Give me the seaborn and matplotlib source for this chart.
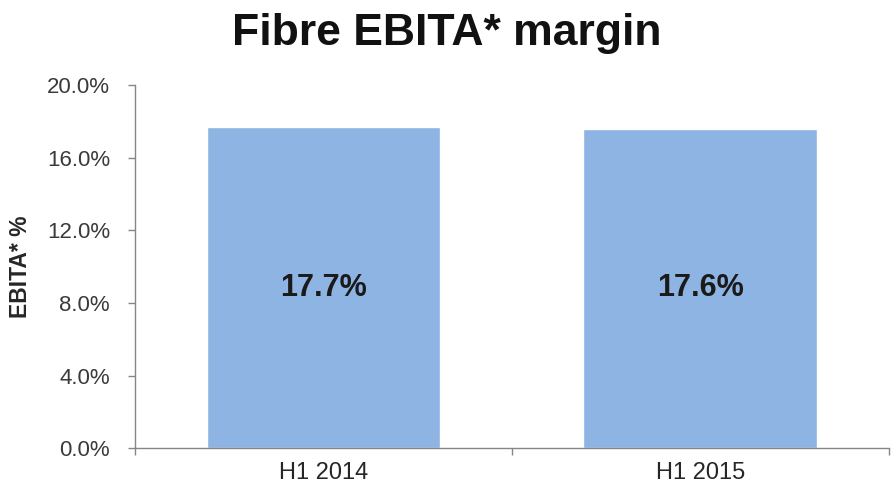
import matplotlib
matplotlib.use("Agg")
import matplotlib.pyplot as plt
import seaborn as sns
import pandas as pd
from matplotlib.ticker import FuncFormatter, FixedLocator

# Data
periods = ["H1 2014", "H1 2015"]
margins = [17.7, 17.6]
y_ticks = [0, 4, 8, 12, 16, 20]

df = pd.DataFrame({"period": periods, "margin": margins})

sns.set_style("white")
plt.rcParams["font.family"] = ["Liberation Sans", "DejaVu Sans"]

fig = plt.figure(figsize=(8.94, 4.92), dpi=100)
ax = fig.add_axes([0.151, 0.089, 0.843, 0.738])

sns.barplot(data=df, x="period", y="margin", color="#8EB4E3", width=0.62,
            saturation=1, ax=ax)

# value labels in the middle of each bar
for i, v in enumerate(margins):
    ax.text(i, v / 2, f"{v:.1f}%", ha="center", va="center",
            fontsize=22, fontweight="bold", color="#1a1a1a")

ax.set_ylim(0, 20)
ax.set_xlim(-0.5, 1.5)
ax.set_yticks(y_ticks)
ax.yaxis.set_major_formatter(FuncFormatter(lambda v, _: f"{v:.1f}%"))
ax.xaxis.set_minor_locator(FixedLocator([-0.5, 0.5, 1.5]))
ax.tick_params(axis="x", which="major", bottom=True, length=0, labelsize=17,
               colors="#262626", pad=10)
ax.tick_params(axis="x", which="minor", bottom=True, length=5, color="#868686", width=1)
ax.tick_params(axis="y", left=True, length=5, color="#868686", width=1, labelsize=16,
               labelcolor="#3a3a3a", pad=13)

ax.set_xlabel("")
ax.set_ylabel("EBITA* %", fontsize=16.5, fontweight="bold")
ax.yaxis.set_label_coords(-0.137, 0.5)

for s in ["top", "right"]:
    ax.spines[s].set_visible(False)
for s in ["left", "bottom"]:
    ax.spines[s].set_color("#868686")
    ax.spines[s].set_linewidth(1)

fig.text(0.5, 0.932, "Fibre EBITA* margin", ha="center", va="center",
         fontsize=32, fontweight="bold", color="#111111")

fig.savefig("out.png", dpi=100)
